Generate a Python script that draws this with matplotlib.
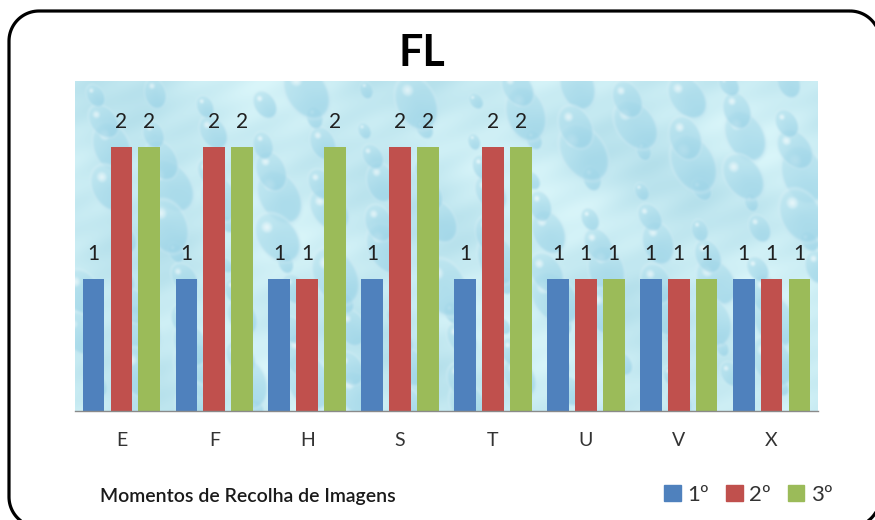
import numpy as np
import matplotlib
matplotlib.use("Agg")
import matplotlib.pyplot as plt
from matplotlib.patches import Patch, PathPatch
from matplotlib.path import Path

# Chart data
categories = ["E", "F", "H", "S", "T", "U", "V", "X"]
serie_1 = [1, 1, 1, 1, 1, 1, 1, 1]
serie_2 = [2, 2, 1, 2, 2, 1, 1, 1]
serie_3 = [2, 2, 2, 2, 2, 1, 1, 1]
series_labels = ["1º", "2º", "3º"]
series_colors = ["#4F81BD", "#C0504D", "#9BBB59"]
chart_title = "FL"
axis_title = "Momentos de Recolha de Imagens"

FIG_W, FIG_H = 875, 520

plt.rcParams["font.family"] = ["Lato", "DejaVu Sans"]


def water_texture(h, w):
    """Procedural light-blue 'water drops' backdrop for the plot area."""
    yy, xx = np.mgrid[0:h, 0:w].astype(float)
    light = np.array([0.78, 0.92, 0.95])
    dark = np.array([0.52, 0.78, 0.88])
    img = np.empty((h, w, 3))
    img[:] = light
    wave = (0.03 * np.sin(xx / 41.0 + 0.7 * np.sin(yy / 29.0))
            + 0.025 * np.cos(yy / 23.0 - xx / 57.0)
            + 0.02 * np.sin(xx / 11.0 + yy / 7.0) * np.cos(yy / 13.0))
    img -= wave[..., None] * np.array([1.0, 0.6, 0.4])

    g1, g2 = 0.7548776662, 0.5698402910
    for k in range(1, 150):
        cx = ((0.5 + g1 * k) % 1.0) * w
        cy = ((0.5 + g2 * k) % 1.0) * h
        r = 6 + 17 * ((k * 0.381966) % 1.0) ** 1.3
        rx, ry = r, r * 1.45
        ang = np.deg2rad(-40 + 25 * ((k * 0.2718281) % 1.0))
        ext = 1.2 * ry
        x0, x1 = int(max(cx - ext, 0)), int(min(cx + ext + 1, w))
        y0, y1 = int(max(cy - ext, 0)), int(min(cy + ext + 1, h))
        if x1 <= x0 or y1 <= y0:
            continue
        X = xx[y0:y1, x0:x1] - cx
        Y = yy[y0:y1, x0:x1] - cy
        ca, sa = np.cos(ang), np.sin(ang)
        u = X * ca + Y * sa
        v = -X * sa + Y * ca
        d = np.sqrt((u / rx) ** 2 + (v / ry) ** 2)
        inside = np.clip((1.05 - d) / 0.15, 0, 1)
        s = np.clip(0.5 + 0.5 * (v / ry), 0, 1)
        shade = (0.15 + 0.75 * s * (1 - 0.3 * d))[..., None]
        col = light * (1 - shade) + dark * shade
        hd = np.sqrt(((u + 0.1 * rx) / (0.3 * rx)) ** 2
                     + ((v + 0.5 * ry) / (0.22 * ry)) ** 2)
        hl = (np.clip(1 - hd, 0, 1) ** 0.7)[..., None] * 0.85
        col = col * (1 - hl) + hl
        rim = (np.exp(-((d - 0.97) / 0.08) ** 2) * 0.4)[..., None]
        col = col * (1 - rim) + rim
        a = inside[..., None] * 0.7
        img[y0:y1, x0:x1] = img[y0:y1, x0:x1] * (1 - a) + col * a

    # soften with a small box blur
    p = np.pad(img, ((1, 1), (1, 1), (0, 0)), mode="edge")
    img = sum(p[i:i + h, j:j + w] for i in range(3) for j in range(3)) / 9.0
    return np.clip(img, 0, 1)


def rounded_frame(left, top, right, bottom, radius, n=24):
    """Rounded rectangle outline in pixel units measured from the top-left."""
    pts = []
    corners = [(right - radius, top + radius, -90, 0),
               (right - radius, bottom - radius, 0, 90),
               (left + radius, bottom - radius, 90, 180),
               (left + radius, top + radius, 180, 270)]
    for cx, cy, a0, a1 in corners:
        t = np.deg2rad(np.linspace(a0, a1, n))
        pts.extend(zip(cx + radius * np.cos(t), cy + radius * np.sin(t)))
    pts.append(pts[0])
    pts = np.array(pts)
    return Path(np.column_stack([pts[:, 0] / FIG_W, 1 - pts[:, 1] / FIG_H]))


fig = plt.figure(figsize=(FIG_W / 100, FIG_H / 100), dpi=100)
fig.patch.set_facecolor("white")

ax = fig.add_axes([75 / FIG_W, 1 - 411 / FIG_H, 743 / FIG_W, 330 / FIG_H])
x = np.arange(len(categories))
ax.set_xlim(-0.5, len(categories) - 0.5)
ax.set_ylim(0, 2.5)

ax.imshow(water_texture(330, 743), extent=(-0.5, len(categories) - 0.5, 0, 2.5),
          aspect="auto", interpolation="bilinear", zorder=0)

bar_w = 0.235
step = 0.30
for i, (vals, color) in enumerate(zip([serie_1, serie_2, serie_3], series_colors)):
    xs = x + (i - 1) * step
    ax.bar(xs, vals, width=bar_w, color=color, zorder=2)
    for xi, vi in zip(xs, vals):
        ax.annotate(f"{vi}", (xi, vi), xytext=(0, 19), textcoords="offset pixels",
                    ha="center", va="baseline", fontsize=15, color="#1f1f1f", zorder=3)

for side in ("left", "top", "right"):
    ax.spines[side].set_visible(False)
ax.spines["bottom"].set_color("#8a8a8a")
ax.spines["bottom"].set_linewidth(1.0)
ax.spines["bottom"].set_zorder(4)
ax.set_yticks([])
ax.set_xticks(x, categories)
ax.tick_params(axis="x", length=0, pad=15, labelsize=14, labelcolor="#333333")

fig.text(422 / FIG_W, 1 - 66 / FIG_H, chart_title, ha="center", va="baseline",
         fontsize=31, fontweight="bold", color="black")
fig.text(100 / FIG_W, 1 - 502 / FIG_H, axis_title, ha="left", va="baseline",
         fontsize=14, fontweight="semibold", color="#1a1a1a")

handles = [Patch(color=c) for c in series_colors]
fig.legend(handles, series_labels, loc="center",
           bbox_to_anchor=(748.5 / FIG_W, 1 - 495 / FIG_H), ncol=3, frameon=False,
           fontsize=16, handlelength=0.75, handleheight=0.75, handletextpad=0.3,
           columnspacing=0.75, borderpad=0, borderaxespad=0, labelcolor="#333333")

frame = PathPatch(rounded_frame(9, 11, 880, 527, 30), transform=fig.transFigure,
                  facecolor="none", edgecolor="black", linewidth=2.3, zorder=10)
fig.add_artist(frame)

fig.savefig("out.png", dpi=100, facecolor="white")
